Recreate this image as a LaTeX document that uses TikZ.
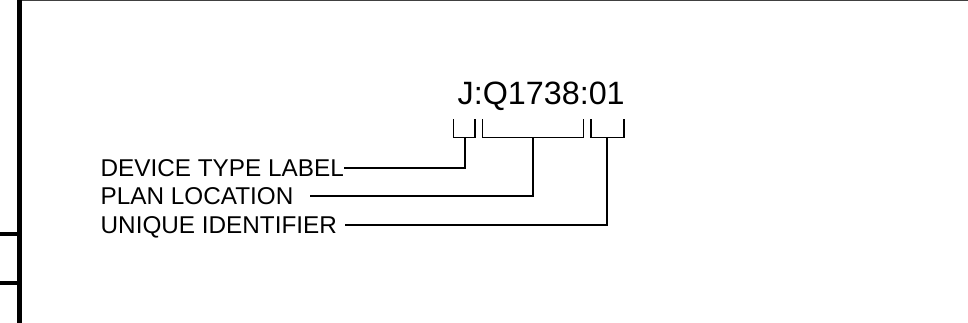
\documentclass[tikz,border=0pt]{standalone}
\usepackage{fontspec}
\setmainfont{Liberation Sans}
\begin{document}
\begin{tikzpicture}[x=1pt,y=-1pt,
  big/.style={inner sep=0pt,anchor=base west,font=\fontsize{32.3}{38}\selectfont},
  lbl/.style={inner sep=0pt,anchor=base west,text depth=0pt,font=\fontsize{24.3}{28}\selectfont},
  thin/.style={line width=1.7pt,line cap=rect},
  frame/.style={line width=5pt}]
\useasboundingbox (0,0) rectangle (968,323);
% frame
\draw[frame] (19.2,0) -- (19.2,323);
\draw[line width=4pt] (0,234) -- (19.2,234);
\draw[line width=4pt] (0,282.5) -- (19.2,282.5);
\draw[line width=1.2pt,draw=black!75] (21.7,0.6) -- (968,0.6);
% code
\node[big] (code) at (457.5,105) {J:Q1738:01};
% labels
\node[lbl] (dev) at (100.5,176.5) {DEVICE TYPE LABEL};
\node[lbl] (plan) at (100.5,204.5) {PLAN LOCATION};
\node[lbl] (uniq) at (100.5,233.8) {UNIQUE IDENTIFIER};
% brackets
\coordinate (b1) at (465,137.5);
\coordinate (b2) at (533.3,137.5);
\coordinate (b3) at (607.3,137.5);
\draw[thin] (453.5,119.5) |- (475,137.5) -- (475,119.5);
\draw[thin] (482.5,119.5) |- (583.5,137.5) -- (583.5,119.5);
\draw[thin] (591,119.5) |- (624,137.5) -- (624,119.5);
% connectors
\draw[thin] (b1) |- ([xshift=1pt]dev.east);
\draw[thin] (b2) |- ([xshift=17pt]plan.east);
\draw[thin] (b3) |- ([xshift=9pt]uniq.east);
\end{tikzpicture}
\end{document}
